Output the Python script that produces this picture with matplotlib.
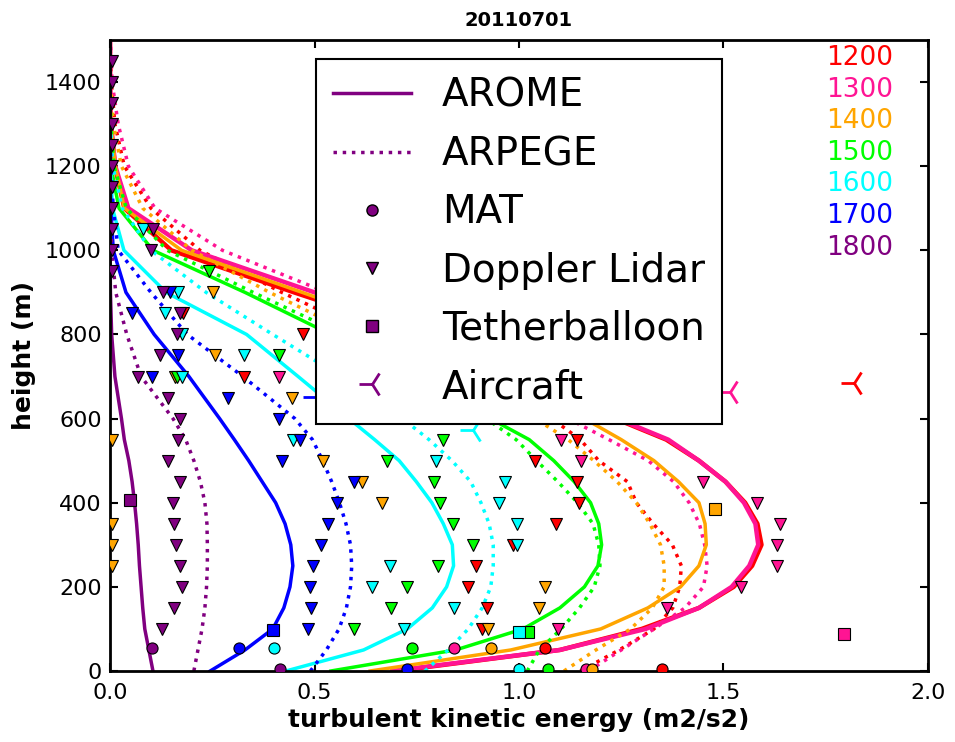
import numpy as np
import matplotlib
matplotlib.use("Agg")
import matplotlib.pyplot as plt
from matplotlib.lines import Line2D

# === MODEL PROFILES (TKE in m2/s2 on common heights) ===
z_model = [0, 50, 100, 150, 200, 250, 300, 350, 400, 450, 500, 550, 600,
           700, 800, 900, 1000, 1100, 1200, 1300, 1400, 1500]

arome_1200 = [0.70, 1.10, 1.30, 1.44, 1.525, 1.57, 1.593, 1.583, 1.553, 1.505, 1.44, 1.36, 1.235,
              1.00, 0.76, 0.45, 0.15, 0.035, 0.012, 0.002, 0, 0]
arome_1300 = [0.69, 1.10, 1.31, 1.44, 1.52, 1.563, 1.585, 1.578, 1.55, 1.505, 1.44, 1.365, 1.24,
              1.02, 0.79, 0.50, 0.20, 0.045, 0.013, 0.002, 0, 0]
arome_1400 = [0.636, 0.98, 1.20, 1.315, 1.395, 1.44, 1.458, 1.455, 1.44, 1.39, 1.33, 1.25, 1.16,
              0.98, 0.76, 0.47, 0.175, 0.035, 0.013, 0.002, 0, 0]
arome_1500 = [0.54, 0.845, 1.01, 1.10, 1.16, 1.193, 1.202, 1.195, 1.175, 1.135, 1.085, 1.025, 0.93,
              0.74, 0.54, 0.33, 0.105, 0.022, 0.002, 0, 0, 0]
arome_1600 = [0.43, 0.62, 0.727, 0.788, 0.823, 0.84, 0.837, 0.815, 0.787, 0.749, 0.707, 0.647, 0.584,
              0.46, 0.334, 0.137, 0.034, 0.006, 0.001, 0, 0, 0]
arome_1700 = [0.245, 0.33, 0.398, 0.425, 0.44, 0.447, 0.442, 0.428, 0.405, 0.372, 0.339, 0.304, 0.268,
              0.193, 0.108, 0.039, 0.008, 0.002, 0, 0, 0, 0]
arome_1800 = [0.105, 0.095, 0.085, 0.08, 0.076, 0.072, 0.069, 0.065, 0.06, 0.054, 0.046, 0.035, 0.028,
              0.012, 0.004, 0.001, 0, 0, 0, 0, 0, 0]

arpege_1200 = [1.15, 1.245, 1.33, 1.376, 1.393, 1.397, 1.375, 1.328, 1.287, 1.265, 1.195, 1.15, 1.08,
               0.88, 0.64, 0.42, 0.22, 0.10, 0.035, 0.012, 0.003, 0]
arpege_1300 = [1.17, 1.25, 1.33, 1.406, 1.451, 1.46, 1.454, 1.441, 1.416, 1.378, 1.316, 1.22, 1.12,
               0.92, 0.72, 0.53, 0.275, 0.11, 0.045, 0.02, 0.005, 0.001]
arpege_1400 = [1.11, 1.188, 1.273, 1.326, 1.355, 1.355, 1.346, 1.32, 1.287, 1.24, 1.183, 1.12, 1.04,
               0.85, 0.60, 0.39, 0.20, 0.08, 0.028, 0.008, 0.001, 0]
arpege_1500 = [1.02, 1.05, 1.103, 1.148, 1.184, 1.198, 1.195, 1.181, 1.143, 1.095, 1.043, 0.993, 0.92,
               0.76, 0.57, 0.35, 0.14, 0.04, 0.01, 0.002, 0, 0]
arpege_1600 = [0.77, 0.827, 0.876, 0.91, 0.931, 0.937, 0.937, 0.927, 0.907, 0.882, 0.836, 0.78, 0.715,
               0.565, 0.398, 0.235, 0.10, 0.03, 0.007, 0.001, 0, 0]
arpege_1700 = [0.49, 0.529, 0.56, 0.578, 0.588, 0.591, 0.588, 0.577, 0.561, 0.542, 0.52, 0.495, 0.452,
               0.325, 0.189, 0.10, 0.02, 0.008, 0.002, 0, 0, 0]
arpege_1800 = [0.205, 0.215, 0.225, 0.232, 0.236, 0.238, 0.238, 0.237, 0.232, 0.221, 0.205, 0.185, 0.154,
               0.076, 0.041, 0.014, 0.004, 0.001, 0, 0, 0, 0]

# === OBSERVATIONS ===
# Doppler lidar (height m, tke)
lidar_1200_z = [850, 800, 700, 550, 500, 450, 400, 350, 300, 250, 200, 150, 100]
lidar_1200_e = [0.179, 0.473, 0.328, 1.141, 1.039, 1.141, 1.147, 1.09, 0.985, 0.896, 0.876, 0.921, 0.909]
lidar_1300_z = [700, 550, 500, 450, 400, 350, 300, 250, 200, 150, 100]
lidar_1300_e = [0.412, 1.103, 1.152, 1.449, 1.581, 1.638, 1.63, 1.63, 1.544, 1.361, 1.095]
lidar_1400_z = [900, 750, 700, 650, 550, 500, 450, 400, 350, 300, 250, 200, 150, 100]
lidar_1400_e = [0.251, 0.257, 0.16, 0.444, 0.004, 0.52, 0.615, 0.664, 0.004, 0.004, 0.004, 1.064, 1.05, 0.923]
lidar_1500_z = [950, 750, 700, 550, 500, 450, 400, 350, 300, 250, 200, 150, 100]
lidar_1500_e = [0.243, 0.412, 0.165, 0.815, 0.678, 0.793, 0.807, 0.839, 0.888, 0.801, 0.725, 0.687, 0.597]
lidar_1600_z = [1050, 900, 850, 800, 750, 700, 550, 500, 450, 400, 350, 300, 250, 200, 150, 100]
lidar_1600_e = [0.08, 0.167, 0.134, 0.177, 0.328, 0.175, 0.448, 0.797, 0.967, 0.951, 0.996, 0.994,
                0.685, 0.64, 0.841, 0.72]
lidar_1700_z = [900, 850, 750, 700, 650, 600, 550, 500, 450, 400, 350, 300, 250, 200, 150, 100]
lidar_1700_e = [0.147, 0.053, 0.167, 0.102, 0.288, 0.414, 0.465, 0.42, 0.597, 0.556, 0.532, 0.516,
                0.497, 0.489, 0.491, 0.485]
lidar_1800_z = [1450, 1400, 1350, 1300, 1250, 1200, 1150, 1100, 1050, 1000, 950,
                1050, 1000, 900, 850, 800, 750, 700, 650, 600, 550, 500, 450, 400, 350, 300, 250, 200, 150, 100]
lidar_1800_e = [0.005, 0.005, 0.005, 0.005, 0.005, 0.005, 0.005, 0.005, 0.005, 0.005, 0.005,
                0.106, 0.10, 0.129, 0.17, 0.163, 0.122, 0.068, 0.143, 0.17, 0.167, 0.143, 0.171, 0.155,
                0.156, 0.161, 0.171, 0.175, 0.156, 0.126]

# MAT tower: tke at ~55 m and near ground, per hour 1200..1800
mat_z = [55, 5]
mat_1200 = [1.063, 1.349]
mat_1300 = [0.842, 1.165]
mat_1400 = [0.931, 1.178]
mat_1500 = [0.738, 1.072]
mat_1600 = [0.401, 1.0]
mat_1700 = [0.316, 0.725]
mat_1800 = [0.102, 0.416]

# Tetherballoon (height, tke); None where nothing is visible
tether_z = [None, 89, 386, 93, 92, 97, 406]
tether_e = [None, 1.795, 1.479, 1.021, 0.999, 0.398, 0.049]

# Aircraft (height, tke)
aircraft_z = [684, 663, None, None, 572, 652, None]
aircraft_e = [1.818, 1.516, None, None, 0.888, 0.504, None]

hours = ['1200', '1300', '1400', '1500', '1600', '1700', '1800']
colors = ['#FF0000', '#FF1493', '#FFA500', '#00FF00', '#00FFFF', '#0000FF', '#800080']

arome = [arome_1200, arome_1300, arome_1400, arome_1500, arome_1600, arome_1700, arome_1800]
arpege = [arpege_1200, arpege_1300, arpege_1400, arpege_1500, arpege_1600, arpege_1700, arpege_1800]
lidar_z = [lidar_1200_z, lidar_1300_z, lidar_1400_z, lidar_1500_z, lidar_1600_z, lidar_1700_z, lidar_1800_z]
lidar_e = [lidar_1200_e, lidar_1300_e, lidar_1400_e, lidar_1500_e, lidar_1600_e, lidar_1700_e, lidar_1800_e]
mat = [mat_1200, mat_1300, mat_1400, mat_1500, mat_1600, mat_1700, mat_1800]

# === FIGURE ===
fig = plt.figure(figsize=(9.55, 7.42), dpi=100)
ax = fig.add_axes([0.1152, 0.0957, 0.8565, 0.8504])

for i, (hr, c) in enumerate(zip(hours, colors)):
    lw = 3.2 if hr in ('1200', '1300') else 2.5
    ax.plot(arome[i], z_model, '-', color=c, lw=lw, zorder=2)
    ax.plot(arpege[i], z_model, ':', color=c, lw=2.5, zorder=2)

for i, c in enumerate(colors):
    ax.plot(lidar_e[i], lidar_z[i], 'v', mfc=c, mec='k', ms=8.5, mew=0.8, ls='none', zorder=3)
    ax.plot(mat[i], mat_z, 'o', mfc=c, mec='k', ms=8, mew=0.8, ls='none', zorder=3)
    if tether_z[i] is not None:
        ax.plot([tether_e[i]], [tether_z[i]], 's', mfc=c, mec='k', ms=8, mew=0.8, ls='none', zorder=3)
    if aircraft_z[i] is not None:
        ax.plot([aircraft_e[i]], [aircraft_z[i]], '3', color=c, ms=19, mew=2, ls='none', zorder=3)

# hour labels in matching colours
for i, (hr, c) in enumerate(zip(hours, colors)):
    ax.text(1.75, 1440 - 75 * i, hr, color=c, fontsize=19, ha='left', va='baseline')

ax.set_xlim(0, 2.0)
ax.set_ylim(0, 1500)
ax.set_xticks([0, 0.5, 1.0, 1.5, 2.0])
ax.set_xticklabels(['0.0', '0.5', '1.0', '1.5', '2.0'])
ax.set_yticks(np.arange(0, 1401, 200))
ax.tick_params(direction='in', top=True, right=True, length=6, width=1.5, labelsize=16)
ax.tick_params(axis='x', pad=9)
ax.tick_params(axis='y', pad=6)
for s in ax.spines.values():
    s.set_linewidth(2)

ax.set_xlabel('turbulent kinetic energy (m2/s2)', fontsize=18, fontweight='bold', labelpad=3)
ax.set_ylabel('height (m)', fontsize=18, fontweight='bold', labelpad=6)
ax.set_title('20110701', fontsize=14, fontweight='bold', pad=10)

pc = '#800080'
handles = [
    Line2D([], [], color=pc, lw=2.5, ls='-'),
    Line2D([], [], color=pc, lw=2.5, ls=':'),
    Line2D([], [], color=pc, marker='o', ls='none', mfc=pc, mec='k', ms=8),
    Line2D([], [], color=pc, marker='v', ls='none', mfc=pc, mec='k', ms=8.5),
    Line2D([], [], color=pc, marker='s', ls='none', mfc=pc, mec='k', ms=8),
    Line2D([], [], color=pc, marker='3', ls='none', ms=19, mew=2),
]
labels = ['AROME', 'ARPEGE', 'MAT', 'Doppler Lidar', 'Tetherballoon', 'Aircraft']
leg = ax.legend(handles, labels, loc='upper center', fontsize=28, numpoints=1,
                fancybox=False, framealpha=1, edgecolor='k', labelspacing=0.52,
                handlelength=2.0, handletextpad=0.8, borderpad=0.45)
leg.get_frame().set_linewidth(1.5)
leg.set_zorder(5)

fig.savefig('out.png', dpi=100)
